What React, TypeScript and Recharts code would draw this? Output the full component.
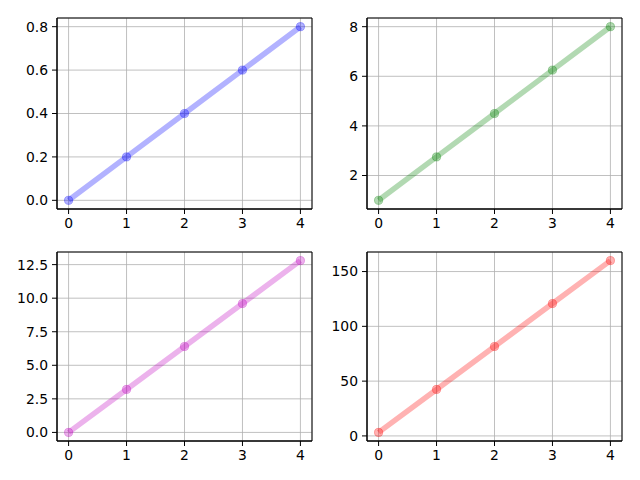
import React from "react";
import { LineChart, Line, XAxis, YAxis, CartesianGrid, ReferenceArea } from "recharts";

const xValues = [0, 1, 2, 3, 4];
const blueValues = [0, 0.2, 0.4, 0.6, 0.8];
const greenValues = [1, 2.75, 4.5, 6.25, 8];
const magentaValues = [0, 3.2, 6.4, 9.6, 12.8];
const redValues = [3.2, 42.4, 81.6, 120.8, 160];

const xTicks = [0, 1, 2, 3, 4];
const blueTicks = [0, 0.2, 0.4, 0.6, 0.8];
const greenTicks = [2, 4, 6, 8];
const magentaTicks = [0, 2.5, 5, 7.5, 10, 12.5];
const redTicks = [0, 50, 100, 150];

const FONT = "DejaVu Sans, sans-serif";

type PanelProps = {
  values: number[];
  color: string;
  yTicks: number[];
  fmt: (v: number) => string;
  left: number;
  top: number;
  yAxisWidth: number;
  marginTop: number;
  marginRight: number;
  xAxisHeight: number;
};

function Panel({ values, color, yTicks, fmt, left, top, yAxisWidth, marginTop, marginRight, xAxisHeight }: PanelProps) {
  const data = xValues.map((x, i) => ({ x, y: values[i] }));
  const lo = Math.min(...values);
  const hi = Math.max(...values);
  const pad = (hi - lo) * 0.05;
  const yDomain: [number, number] = [lo - pad, hi + pad];
  const xDomain: [number, number] = [-0.2, 4.2];
  const tickStyle = { fill: "#000", fontSize: 13.9, fontFamily: FONT };

  return (
    <div style={{ position: "absolute", left, top }}>
      <LineChart
        width={320}
        height={240}
        data={data}
        margin={{ top: marginTop, right: marginRight, left: 0, bottom: 0 }}
      >
        <CartesianGrid stroke="#b0b0b0" strokeWidth={0.8} />
        <XAxis
          dataKey="x"
          type="number"
          domain={xDomain}
          ticks={xTicks}
          allowDataOverflow
          height={xAxisHeight}
          tick={tickStyle}
          tickSize={5}
          tickMargin={4}
          axisLine={{ stroke: "#000" }}
          tickLine={{ stroke: "#000" }}
        />
        <YAxis
          type="number"
          domain={yDomain}
          ticks={yTicks}
          allowDataOverflow
          width={yAxisWidth}
          tick={tickStyle}
          tickFormatter={fmt}
          tickSize={5}
          tickMargin={4}
          axisLine={{ stroke: "#000" }}
          tickLine={{ stroke: "#000" }}
        />
        <Line
          type="linear"
          dataKey="y"
          stroke={color}
          strokeOpacity={0.3}
          strokeWidth={5.5}
          dot={{ r: 4.1, fill: color, fillOpacity: 0.3, stroke: color, strokeOpacity: 0.3, strokeWidth: 1 }}
          isAnimationActive={false}
        />
        <ReferenceArea
          x1={xDomain[0]}
          x2={xDomain[1]}
          y1={yDomain[0]}
          y2={yDomain[1]}
          fill="none"
          stroke="#000"
          strokeWidth={1}
          fillOpacity={0}
          ifOverflow="visible"
        />
      </LineChart>
    </div>
  );
}

const oneDecimal = (v: number) => v.toFixed(1);
const integer = (v: number) => String(Math.round(v));

export default function App() {
  return (
    <div style={{ position: "fixed", left: 0, top: 0, width: 640, height: 480, background: "#fff" }}>
      <Panel values={blueValues} color="#0000ff" yTicks={blueTicks} fmt={oneDecimal}
        left={0} top={0} yAxisWidth={57} marginTop={18} marginRight={8} xAxisHeight={31} />
      <Panel values={greenValues} color="#008000" yTicks={greenTicks} fmt={integer}
        left={320} top={0} yAxisWidth={47} marginTop={18} marginRight={18} xAxisHeight={31} />
      <Panel values={magentaValues} color="#bf00bf" yTicks={magentaTicks} fmt={oneDecimal}
        left={0} top={240} yAxisWidth={57} marginTop={12} marginRight={8} xAxisHeight={39} />
      <Panel values={redValues} color="#ff0000" yTicks={redTicks} fmt={integer}
        left={320} top={240} yAxisWidth={47} marginTop={12} marginRight={18} xAxisHeight={39} />
    </div>
  );
}
